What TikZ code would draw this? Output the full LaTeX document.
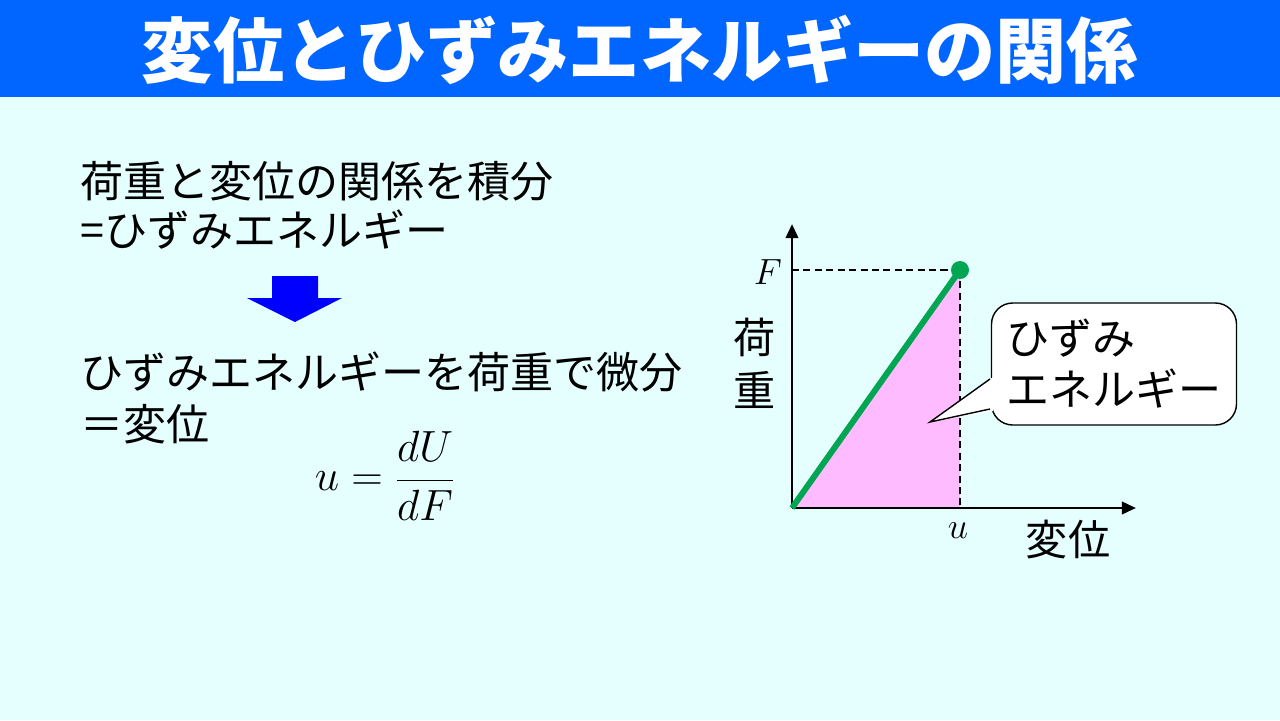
\documentclass[tikz,border=0pt]{standalone}
\usepackage{fontspec}
\setmainfont{Noto Sans CJK JP}
\usetikzlibrary{positioning, arrows.meta}

\definecolor{bgcyan}{RGB}{229,255,255}
\definecolor{titleblue}{RGB}{0,102,255}
\definecolor{curvegreen}{RGB}{0,166,81}
\definecolor{energypink}{RGB}{255,187,255}

\begin{document}
\begin{tikzpicture}[x=0.02cm, y=-0.02cm,
  bodytext/.style={anchor=west, inner sep=0pt, font=\fontsize{24.5}{29}\selectfont},
  axis/.style={line width=1.6pt, -{Triangle[length=8pt, width=7pt]}},
  guide/.style={dash pattern=on 4pt off 2.5pt, line width=0.8pt},
  labeltext/.style={inner sep=0pt, font=\fontsize{24}{30}\selectfont}]

% Background and title
\fill[bgcyan] (0,0) rectangle (1280,720);
\useasboundingbox (0,0) rectangle (1280,720);
\fill[titleblue] (0,0) rectangle (1280,97);
\node[text=white, font=\fontsize{40.5}{48}\selectfont\bfseries] (title) at (640,50) {変位とひずみエネルギーの関係};

% Left text
\node[bodytext] (integ) at (80,181) {荷重と変位の関係を積分};
\node[bodytext] (energy) at (80,230) {=ひずみエネルギー};
\fill[blue] (272,276) -- (318,276) -- (318,298) -- (342,298) -- (295,322)
  -- (247,298) -- (272,298) -- cycle;
\node[bodytext] (diff) at (80,372) {ひずみエネルギーを荷重で微分};
\node[bodytext] (disp) at (80,424) {＝変位};
\node[inner sep=0pt, font=\fontsize{24}{28}\selectfont] (formula) at (385,476) {$\displaystyle u=\frac{dU}{dF}$};

% Graph
\coordinate (O) at (792,508);
\coordinate (P) at (960,270);
\coordinate (ytip) at (792,224);
\coordinate (xtip) at (1136,508);
\fill[energypink] (O) -- (P) -- (P |- O) -- cycle;
\draw[guide] (O |- P) -- (P);
\draw[guide] (P) -- (P |- O);
\draw[axis] (O) -- (ytip);
\draw[axis] (O) -- (xtip);
\draw[curvegreen, line width=3.4pt] (O) -- (P);
\fill[curvegreen] (P) circle (9);
\node[inner sep=0pt, font=\fontsize{22}{26}\selectfont] (Flabel) at (768,272) {$F$};
\node[inner sep=0pt, font=\fontsize{22}{26}\selectfont] (ulabel) at (958,531) {$u$};
\node[labeltext, align=center, font=\fontsize{24}{30}\selectfont] (load) at (755,363) {荷\\重};
\node[labeltext] (dispaxis) at (1068,540) {変位};

% Callout
\node[draw, fill=white, rounded corners=12, line width=0.8pt, align=left,
  minimum width=4.9cm, minimum height=2.44cm, inner sep=0pt,
  font=\fontsize{24.5}{29}\selectfont] (callout) at (1114,364) {ひずみ\\エネルギー};
\coordinate (tip) at (930,422);
\coordinate (ptA) at (990,379);
\coordinate (ptB) at (990,409);
\fill[white] (993,377) -- (tip) -- (993,411) -- cycle;
\draw[line width=0.8pt] (ptA) -- (tip) -- (ptB);

\end{tikzpicture}
\end{document}
